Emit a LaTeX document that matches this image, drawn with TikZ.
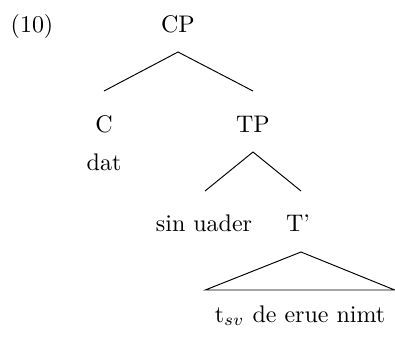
\documentclass[tikz,border=0pt]{standalone}
\usetikzlibrary{calc}
\begin{document}
\begin{tikzpicture}[x=0.4167pt,y=-0.4167pt,
  lbl/.style={anchor=base, inner sep=0pt},
  branch/.style={line width=0.4pt}]
\useasboundingbox (0,0) rectangle (395,336);
% labels of the tree
\node[lbl] (ex)   at (32,32)   {(10)};
\node[lbl] (CP)   at (178,32)  {CP};
\node[lbl] (C)    at (104,132) {C};
\node[lbl] (TP)   at (253,132) {TP};
\node[lbl] (dat)  at (104,170) {dat};
\node[lbl] (spec) at (204,231) {sin uader};
\node[lbl] (Tbar) at (298,231) {T'};
\node[lbl] (vp)   at (300,322) {t$_{sv}$ de erue nimt};
% branches
\draw[branch] ($(C.base)+(0,-41)$) -- ($(CP.base)+(0,20)$) -- ($(TP.base)+(0,-41)$);
\draw[branch] ($(spec.base)+(1,-40)$) -- ($(TP.base)+(0,20)$) -- ($(Tbar.base)+(3,-40)$);
% roof over the T' phrase
\draw[branch] ($(vp.base west)+(-9,-32)$) -- ($(Tbar.base)+(3,21)$) -- ($(vp.base east)+(9,-32)$) -- cycle;
\end{tikzpicture}
\end{document}
